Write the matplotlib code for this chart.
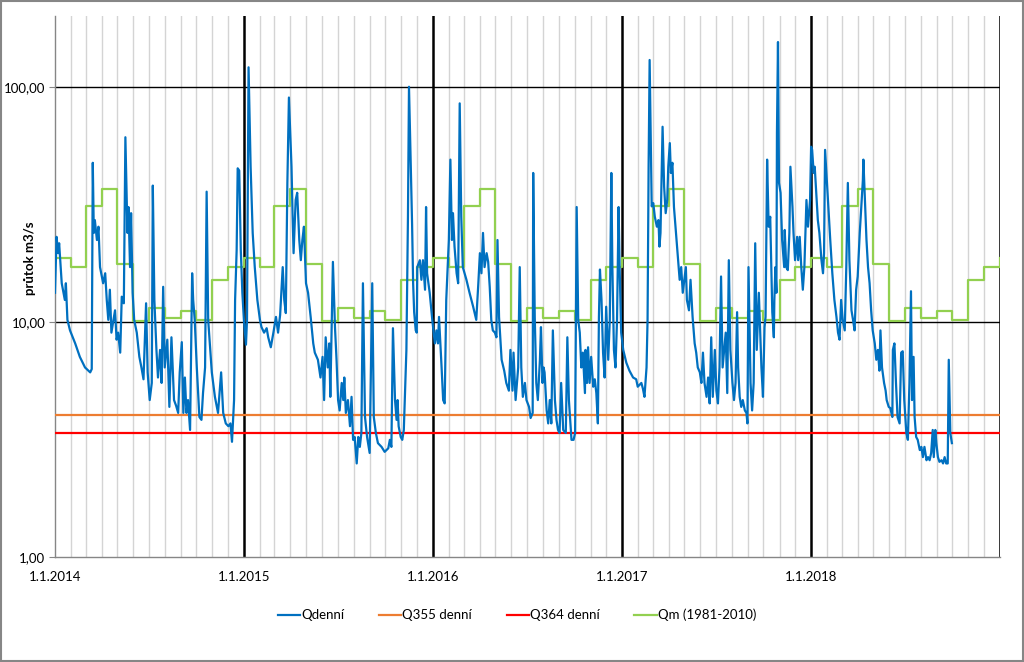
import numpy as np
import pandas as pd
import matplotlib
matplotlib.use("Agg")
import matplotlib.pyplot as plt
import matplotlib.dates as mdates
from matplotlib.ticker import FixedLocator, NullLocator
from matplotlib.patches import Rectangle

plt.rcParams['font.family'] = ['Lato', 'DejaVu Sans']

# Daily flow: day offset from 1.1.2014 and value in m3/s
q_days = [0, 3, 6, 8, 13, 19, 21, 24, 29, 39, 48, 58, 68, 71, 73, 75, 77, 81, 84, 87,
          93, 97, 100, 103, 106, 109, 116, 119, 122, 126, 129, 133, 136, 140, 142, 145, 147, 150, 153, 158,
          163, 167, 171, 176, 179, 183, 187, 189, 192, 196, 199, 203, 206, 209, 212, 217, 221, 225, 230, 234,
          238, 241, 245, 248, 251, 254, 257, 261, 265, 267, 270, 274, 279, 283, 286, 290, 293, 296, 303, 309,
          315, 321, 325, 330, 335, 339, 342, 346, 348, 351, 353, 356, 359, 362, 365, 369, 371, 374, 378, 382,
          386, 391, 396, 399, 404, 409, 412, 417, 422, 427, 431, 435, 440, 443, 446, 449, 452, 457, 459, 461,
          465, 468, 472, 475, 478, 481, 485, 489, 494, 499, 502, 508, 513, 517, 520, 523, 527, 530, 532, 537,
          541, 544, 547, 550, 554, 557, 559, 562, 566, 570, 573, 576, 579, 583, 586, 589, 592, 595, 599, 603,
          608, 613, 616, 620, 624, 631, 637, 644, 647, 650, 653, 657, 660, 662, 664, 668, 671, 674, 676, 679,
          682, 684, 687, 690, 692, 694, 697, 699, 700, 705, 708, 711, 715, 717, 719, 724, 729, 734, 737, 740,
          742, 747, 750, 753, 756, 758, 761, 764, 767, 769, 772, 776, 779, 782, 785, 788, 795, 801, 808, 814,
          818, 821, 824, 827, 830, 834, 837, 840, 843, 846, 850, 853, 855, 858, 863, 868, 872, 877, 880, 884,
          886, 890, 895, 898, 901, 904, 908, 911, 916, 919, 923, 924, 927, 930, 933, 937, 939, 942, 944, 946,
          950, 953, 956, 959, 962, 966, 969, 972, 975, 978, 982, 987, 990, 993, 998, 1002, 1005, 1008, 1011, 1014,
          1017, 1020, 1024, 1025, 1028, 1030, 1033, 1036, 1040, 1043, 1046, 1049, 1051, 1053, 1056, 1059, 1062, 1065, 1069, 1072,
          1075, 1077, 1080, 1083, 1086, 1089, 1091, 1094, 1098, 1104, 1110, 1117, 1123, 1126, 1133, 1136, 1139, 1143, 1145, 1147,
          1149, 1153, 1156, 1159, 1163, 1166, 1168, 1170, 1174, 1177, 1180, 1183, 1185, 1188, 1190, 1193, 1196, 1199, 1204, 1207,
          1210, 1213, 1219, 1221, 1225, 1228, 1232, 1236, 1239, 1242, 1246, 1249, 1252, 1255, 1259, 1262, 1265, 1268, 1271, 1275,
          1278, 1281, 1284, 1287, 1290, 1296, 1299, 1302, 1305, 1309, 1312, 1315, 1318, 1320, 1323, 1326, 1329, 1333, 1336, 1338,
          1340, 1344, 1347, 1350, 1353, 1356, 1360, 1365, 1368, 1371, 1373, 1376, 1379, 1382, 1386, 1389, 1390, 1392, 1394, 1395,
          1397, 1399, 1402, 1405, 1409, 1410, 1413, 1416, 1419, 1421, 1425, 1427, 1430, 1434, 1436, 1439, 1442, 1445, 1448, 1452,
          1455, 1457, 1459, 1461, 1463, 1466, 1468, 1471, 1474, 1477, 1481, 1484, 1486, 1488, 1492, 1495, 1498, 1502, 1506, 1510,
          1513, 1516, 1519, 1522, 1526, 1529, 1532, 1535, 1539, 1542, 1545, 1548, 1551, 1555, 1558, 1561, 1562, 1565, 1568, 1571,
          1574, 1577, 1580, 1584, 1587, 1590, 1593, 1595, 1598, 1602, 1605, 1607, 1611, 1614, 1618, 1619, 1622, 1625, 1628, 1632,
          1635, 1638, 1641, 1645, 1648, 1651, 1654, 1656, 1659, 1661, 1664, 1667, 1671, 1674, 1677, 1680, 1684, 1687, 1690, 1693,
          1696, 1698, 1701, 1703, 1706, 1709, 1713, 1716, 1719, 1722, 1725, 1727, 1730, 1733]
q_vals = [13.3, 23, 19.6, 21.6, 14.6, 12.4, 14.6, 10.2, 9.2, 8.1, 7.1, 6.4, 6.1, 6.3, 47.5, 23.9, 27.1, 22.3, 25.4, 17.1,
          14.6, 16.1, 12.4, 10.2, 13.7, 9.0, 11.2, 8.4, 9.0, 7.4, 12.8, 12.0, 61, 23.9, 30.8, 17.1, 29, 13.3, 10.2, 9.0,
          7.1, 6.4, 5.7, 12.0, 6.1, 4.65, 5.5, 38, 12.4, 7.6, 5.8, 7.6, 5.5, 14.1, 6.4, 8.4, 4.35, 8.6, 4.65, 4.4,
          4.1, 6.1, 8.2, 4.1, 5.8, 4.1, 4.65, 3.47, 16.1, 12.4, 10.2, 6.4, 3.94, 3.83, 4.98, 6.4, 35.8, 10.2, 6.1, 4.8,
          4.1, 6.1, 4.1, 3.7, 3.6, 3.7, 3.09, 4.65, 12.4, 20.2, 45, 44, 20.2, 13.3, 10.2, 8.0, 10.2, 121, 45.7, 23.9,
          17.1, 12.4, 10.2, 9.5, 9.0, 9.4, 8.6, 7.8, 9.0, 10.5, 9.0, 10.7, 17.1, 12.4, 10.9, 39, 90, 45.7, 29, 19.6,
          33, 35.4, 22.3, 18.3, 22.3, 25.4, 14.6, 13.3, 10.5, 8.1, 7.4, 6.9, 5.8, 7.1, 4.65, 8.6, 6.4, 8.1, 4.8, 18.0,
          9.5, 6.9, 4.65, 4.2, 5.5, 4.65, 5.8, 4.1, 4.65, 3.6, 4.8, 3.15, 3.24, 2.5, 3.24, 2.94, 3.37, 14.6, 3.94, 3.24,
          2.77, 14.6, 3.94, 3.37, 3.05, 2.94, 2.8, 2.9, 3.15, 2.94, 9.4, 4.65, 3.83, 4.65, 3.6, 3.24, 3.15, 3.47, 4.8, 7.6,
          28, 100, 52, 26, 14.6, 11, 9.2, 9.0, 17.1, 18.3, 15.1, 18.3, 13.7, 30.8, 16.1, 13.3, 10.2, 8.1, 9.2, 8.1,
          10.5, 6.4, 4.65, 4.5, 12.4, 15.6, 22.3, 49, 22.3, 29, 20.9, 16.1, 14.6, 85, 28, 17.1, 15.1, 13.3, 11.6, 10.2,
          14.6, 19.6, 16.1, 23.9, 17.1, 19.6, 18, 14.1, 10.2, 9.2, 9.0, 8.6, 22.3, 10.5, 6.9, 6.2, 5.5, 5.1, 7.6, 5.1,
          7.4, 4.65, 6.4, 17.1, 6.4, 4.8, 5.5, 4.65, 4.35, 3.9, 4.1, 43, 10.5, 5.5, 4.65, 6.9, 9.5, 5.5, 6.4, 6.1,
          4.2, 3.7, 4.65, 3.7, 9.2, 4.65, 3.83, 3.47, 3.37, 5.5, 3.47, 3.37, 8.6, 4.65, 3.15, 3.15, 3.37, 30.8, 10.2, 9.0,
          6.4, 7.4, 4.98, 7.6, 5.5, 7.8, 5.5, 7.1, 5.3, 5.7, 4.98, 3.7, 10.5, 16.7, 12.4, 7.4, 5.8, 11.6, 6.9, 10.2,
          43, 17.1, 7.6, 6.4, 10.2, 30.8, 17.1, 9.0, 7.6, 6.7, 6.2, 5.8, 5.7, 5.3, 5.5, 5.2, 4.8, 6.4, 10.2, 45.7,
          130, 31, 32, 28, 25.4, 27.1, 20.9, 23.9, 67.6, 37.6, 29, 33, 45.7, 57.6, 43, 47.5, 30.8, 25.4, 18.3, 15.1,
          17.1, 13.3, 17.1, 12.4, 11.2, 15.1, 10.5, 8.1, 7.4, 6.4, 6.1, 5.5, 7.4, 5.5, 4.8, 5.8, 4.5, 8.6, 4.8, 7.6,
          5.1, 4.5, 6.4, 15.6, 6.4, 9.0, 4.98, 18.3, 7.6, 5.5, 4.65, 5.5, 11.0, 6.4, 4.8, 4.35, 4.65, 4.2, 4.1, 3.7,
          17.1, 5.5, 4.2, 5.5, 21.6, 7.6, 13.3, 6.4, 4.8, 9.5, 10.5, 49, 25.4, 28, 11, 8.6, 12.4, 17.1, 13.3, 63.7,
          155, 39, 35.4, 22.3, 17.1, 24.6, 17.1, 16.6, 23.9, 45.7, 30.8, 23.9, 18.3, 23, 18.3, 23, 17.1, 13.7, 17.1, 33,
          25.4, 29, 33, 55.6, 53.9, 43, 45.7, 35.4, 27.1, 23.9, 18.3, 16.1, 19.6, 53.9, 37.6, 29, 22.3, 16.1, 12.4, 10.5,
          9.0, 8.4, 12.4, 10.2, 9.2, 17.1, 39, 18.3, 11.2, 10.2, 9.2, 13.7, 15.6, 23.9, 30.8, 40, 49, 33, 22.3, 17.1,
          14.6, 11.2, 9.2, 8.1, 6.9, 7.6, 6.2, 9.2, 6.4, 5.5, 5.1, 4.65, 4.35, 4.3, 3.94, 7.6, 8.1, 5.5, 3.94, 3.7,
          7.4, 7.5, 4.65, 3.37, 3.15, 5.5, 13.5, 4.65, 7.1, 3.94, 3.24, 3.15, 2.85, 2.94, 2.66, 2.94, 2.58, 2.66, 2.58, 2.77,
          3.47, 2.66, 3.47, 3.05, 2.66, 2.54, 2.58, 2.5, 2.66, 2.5, 2.5, 6.9, 3.37, 3.05]

# Long-term monthly mean flow Qm (1981-2010), Jan..Dec
qm_monthly = [18.7, 17.1, 31.2, 36.8, 17.6, 10.1, 11.5, 10.4, 11.1, 10.2, 15.1, 17.1]
q355 = 4.0
q364 = 3.37
years = [2014, 2015, 2016, 2017, 2018]

start = pd.Timestamp('2014-01-01')
end = pd.Timestamp('2019-01-01')
q_dates = start + pd.to_timedelta(q_days, unit='D')

qm_dates = pd.date_range(start, end, freq='MS')
qm_vals = [qm_monthly[d.month - 1] for d in qm_dates]

fig = plt.figure(figsize=(10.24, 6.62), dpi=100)
ax = fig.add_axes([55 / 1024, 1 - 557 / 662, 945 / 1024, 541 / 662])

ax.plot(q_dates, q_vals, color='#0070C0', lw=1.6, label='Qdenní', zorder=4)
ax.plot([start, end], [q355, q355], color='#ED7D31', lw=1.6, label='Q355 denní', zorder=3)
ax.plot([start, end], [q364, q364], color='#FF0000', lw=1.6, label='Q364 denní', zorder=3)
ax.plot(qm_dates, qm_vals, color='#92D050', lw=1.6, drawstyle='steps-post',
        label='Qm (1981-2010)', zorder=3)

ax.set_yscale('log')
ax.set_ylim(1, 200)
ax.set_xlim(start, end)
ax.yaxis.set_major_locator(FixedLocator([1, 10, 100]))
ax.yaxis.set_minor_locator(NullLocator())
ax.set_yticklabels(['1,00', '10,00', '100,00'])

year_ticks = [pd.Timestamp(f'{y}-01-01') for y in years]
ax.set_xticks(year_ticks)
ax.set_xticklabels([f'1.1.{y}' for y in years])
ax.xaxis.set_minor_locator(mdates.MonthLocator())

# grid lines
ax.grid(True, which='minor', axis='x', color='#d4d4d4', lw=1)
for t in year_ticks[1:] + [end]:
    ax.axvline(t, color='black', lw=1.8, zorder=2)
for yv in [10, 100]:
    ax.axhline(yv, color='black', lw=1, zorder=2)

for s in ['top', 'right']:
    ax.spines[s].set_visible(False)
for s in ['left', 'bottom']:
    ax.spines[s].set_color('#868686')
    ax.spines[s].set_linewidth(1)
ax.tick_params(axis='y', which='major', length=4, color='#868686', labelsize=9.5, pad=3)
ax.tick_params(axis='x', which='major', length=0, labelsize=9.5, pad=10)
ax.tick_params(axis='x', which='minor', length=0)

fig.text(30 / 1024, 1 - 258 / 662, 'průtok m3/s', rotation=90, ha='center', va='center',
         fontsize=9.5, fontweight='bold')

fig.legend(loc='center', bbox_to_anchor=(517 / 1024, 1 - 615 / 662), ncol=4, frameon=False,
           fontsize=9.5, handlelength=1.7, columnspacing=2.6, handletextpad=0.1)

fig.patches.append(Rectangle((0.001, 0.001), 0.998, 0.998, transform=fig.transFigure,
                             fill=False, edgecolor='#868686', lw=1.5))

fig.savefig('out.png', dpi=100)
